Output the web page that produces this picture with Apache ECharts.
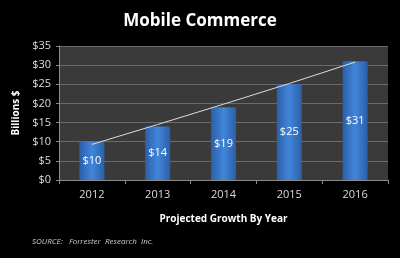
<!DOCTYPE html>
<html>
<head>
<meta charset="utf-8">
<script src="https://cdn.jsdelivr.net/npm/echarts@6/dist/echarts.min.js"></script>
<style>
  html, body { margin: 0; padding: 0; background: #000; }
  #main { width: 400px; height: 258px; }
</style>
</head>
<body>
<div id="main"></div>
<script>
var years = ['2012', '2013', '2014', '2015', '2016'];
var revenue = [10, 14, 19, 25, 31];
var trend = [9.3, 14.5, 19.8, 25.2, 30.8];
var yTicks = [0, 5, 10, 15, 20, 25, 30, 35];

var chart = echarts.init(document.getElementById('main'));

var option = {
    backgroundColor: '#000',
    animation: false,
    title: {
        text: 'Mobile Commerce',
        left: 'center',
        top: 8,
        textStyle: { color: '#fff', fontSize: 17, fontWeight: 'bold', fontFamily: 'Open Sans' }
    },
    grid: {
        left: 59, right: 12, top: 46, bottom: 78,
        show: true,
        backgroundColor: '#3a3a3a',
        borderWidth: 0
    },
    xAxis: {
        type: 'category',
        data: years,
        name: 'Projected Growth By Year',
        nameLocation: 'middle',
        nameGap: 34,
        nameTextStyle: { color: '#fff', fontSize: 10, fontWeight: 'bold', fontFamily: 'Open Sans' },
        axisLine: { lineStyle: { color: '#8a8a8a' } },
        axisTick: { show: true, length: 4, lineStyle: { color: '#8a8a8a' } },
        axisLabel: { color: '#ddd', fontSize: 11, margin: 9, fontFamily: 'Open Sans' }
    },
    yAxis: {
        type: 'value',
        min: yTicks[0],
        max: yTicks[yTicks.length - 1],
        interval: 5,
        name: 'Billions $',
        nameLocation: 'middle',
        nameGap: 32,
        nameTextStyle: { color: '#fff', fontSize: 10, fontWeight: 'bold', fontFamily: 'Open Sans' },
        axisLine: { show: true, lineStyle: { color: '#8a8a8a' } },
        axisTick: { show: true, length: 3, lineStyle: { color: '#8a8a8a' } },
        axisLabel: {
            color: '#ddd', fontSize: 11, margin: 8, fontFamily: 'Open Sans',
            formatter: function (v) { return '$' + v; }
        },
        splitLine: { lineStyle: { color: '#6a6a6a', width: 1 } }
    },
    series: [{
        type: 'bar',
        data: revenue,
        barWidth: 25,
        itemStyle: {
            color: new echarts.graphic.LinearGradient(0, 0, 1, 0, [
                { offset: 0, color: '#2b5fa8' },
                { offset: 0.5, color: '#4186da' },
                { offset: 1, color: '#2b5fa8' }
            ])
        },
        label: {
            show: true,
            position: 'inside',
            color: '#fff',
            fontSize: 11,
            fontFamily: 'Open Sans',
            formatter: function (p) { return '$' + p.value; }
        }
    }, {
        type: 'line',
        data: trend,
        symbol: 'none',
        lineStyle: { color: '#ddd', width: 1 },
        z: 5
    }],
    graphic: [{
        type: 'text',
        left: 32,
        top: 238,
        style: {
            text: 'SOURCE:   Forrester  Research  Inc.',
            fill: '#ccc',
            font: 'italic 8px "Open Sans"'
        }
    }]
};

chart.setOption(option);
</script>
</body>
</html>
